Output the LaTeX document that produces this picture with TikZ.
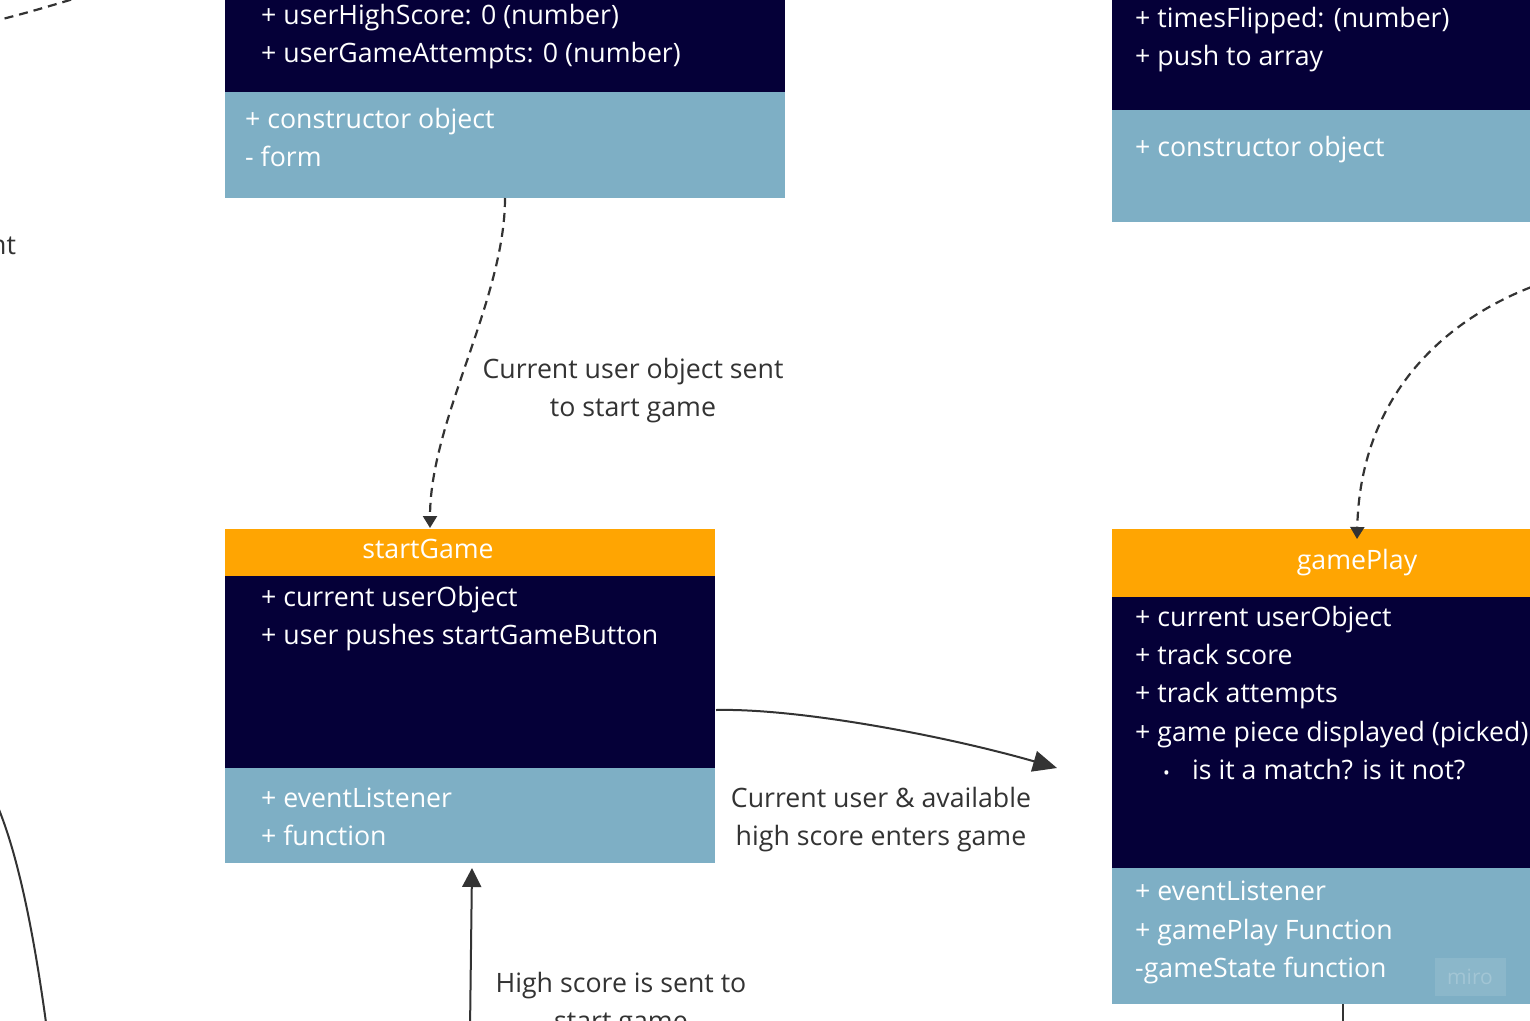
\documentclass[tikz,border=0pt]{standalone}
\usepackage{fontspec}
\setmainfont{Open Sans}
\usetikzlibrary{arrows.meta}
\definecolor{navy}{HTML}{050038}
\definecolor{orng}{HTML}{FFA502}
\definecolor{lblue}{HTML}{7EAFC5}
\definecolor{lblgray}{HTML}{333333}
\definecolor{linec}{HTML}{333333}
\begin{document}
\begin{tikzpicture}[x=1pt,y=-1pt,
  compart/.style={draw=none, anchor=north west, inner sep=0pt, outer sep=0pt},
  darkc/.style={compart, fill=navy},
  lightc/.style={compart, fill=lblue},
  headc/.style={compart, fill=orng},
  txt/.style={anchor=base west, inner sep=0pt, text=white, font=\fontsize{26.7}{38}\selectfont},
  ttl/.style={anchor=base, inner sep=0pt, text=white, font=\fontsize{26.7}{38}\selectfont},
  lbl/.style={anchor=base, inner sep=0pt, text=lblgray, font=\fontsize{26.7}{38}\selectfont},
  dashc/.style={draw=linec, line width=2.2pt, dash pattern=on 9pt off 6pt},
  solidc/.style={draw=linec, line width=2pt},
  smalltip/.style={-{Triangle[length=12pt,width=14pt]}},
  bigtip/.style={-{Triangle[length=24pt,width=21pt]}},
  midtip/.style={-{Triangle[length=19pt,width=19pt]}}
]
\useasboundingbox (0,0) rectangle (1530,1020);
\clip (0,0) rectangle (1530,1020);
\fill[white] (0,0) rectangle (1530,1020);

% ---------- top-left class (cut off) ----------
\node[darkc, minimum width=560pt, minimum height=152pt] (ud) at (225,-60) {};
\node[lightc, minimum width=560pt, minimum height=106pt] (ul) at (225,92) {};
\node[txt] (ut1) at (261,24) {+ userHighScore: 0 (number)};
\node[txt] (ut2) at (261,62) {+ userGameAttempts: 0 (number)};
\node[txt] (ut3) at (245,128) {+ constructor object};
\node[txt] (ut4) at (245,166) {- form};

% ---------- top-right class (cut off) ----------
\node[darkc, minimum width=450pt, minimum height=170pt] (cd) at (1112,-60) {};
\node[lightc, minimum width=450pt, minimum height=112pt] (cl) at (1112,110) {};
\node[txt] (ct1) at (1135,27) {+ timesFlipped: (number)};
\node[txt] (ct2) at (1135,65) {+ push to array};
\node[txt] (ct3) at (1135,156) {+ constructor object};

% ---------- startGame ----------
\node[headc, minimum width=490pt, minimum height=47pt] (sgh) at (225,529) {};
\node[darkc, minimum width=490pt, minimum height=192pt] (sgd) at (225,576) {};
\node[lightc, minimum width=490pt, minimum height=95pt] (sgl) at (225,768) {};
\node[ttl] (sgt) at (428,558) {startGame};
\node[txt] (sg1) at (261,606) {+ current userObject};
\node[txt] (sg2) at (261,644) {+ user pushes startGameButton};
\node[txt] (sg3) at (261,807) {+ eventListener};
\node[txt] (sg4) at (261,845) {+ function};

% ---------- gamePlay ----------
\node[headc, minimum width=450pt, minimum height=68pt] (gph) at (1112,529) {};
\node[darkc, minimum width=450pt, minimum height=271pt] (gpd) at (1112,597) {};
\node[lightc, minimum width=450pt, minimum height=136pt] (gpl) at (1112,868) {};
\node[ttl] (gpt) at (1357,569) {gamePlay};
\node[txt] (gp1) at (1135,626) {+ current userObject};
\node[txt] (gp2) at (1135,664) {+ track score};
\node[txt] (gp3) at (1135,702) {+ track attempts};
\node[txt] (gp4) at (1135,741) {+ game piece displayed (picked)};
\node[txt] (gpb) at (1163,779) {\fontsize{18}{20}\selectfont •};
\node[txt] (gp5) at (1192,779) {is it a match? is it not?};
\node[txt] (gp6) at (1135,900) {+ eventListener};
\node[txt] (gp7) at (1135,939) {+ gamePlay Function};
\node[txt] (gp8) at (1135,977) {-gameState function};
\node[fill=white, fill opacity=0.1, text=white, text opacity=0.2, minimum width=71pt, minimum height=38pt, inner sep=0pt,
      font=\fontsize{21}{24}\selectfont] (miro) at (1470,977) {miro};

% ---------- labels ----------
\node[lbl] (l1a) at (633,378) {Current user object sent};
\node[lbl] (l1b) at (633,416) {to start game};
\node[lbl] (l2a) at (881,807) {Current user \& available};
\node[lbl] (l2b) at (881,845) {high score enters game};
\node[lbl] (l3a) at (621,992) {High score is sent to};
\node[lbl] (l3b) at (621,1030) {start game};
\node[lbl, anchor=base west] (l4) at (-10,254) {nt};

% ---------- connector end points ----------
\coordinate (e1) at (430,528);
\coordinate (s2) at (1545,282);
\coordinate (e2) at (1357,539);
\coordinate (s3) at (716,710);
\coordinate (e3) at (1057,768);
\coordinate (s4) at (470,1030);
\coordinate (e4) at (472,868);
\coordinate (s5) at (-10,22);
\coordinate (e5) at (80,-3);
\coordinate (s6) at (-6,798);
\coordinate (e6) at (47,1030);
\coordinate (e7) at (1343,1030);

% ---------- connectors ----------
\draw[dashc, smalltip] (ul.south) .. controls (505,300) and (430,420) .. (e1);
\draw[dashc, smalltip] (s2) .. controls (1440,318) and (1360,400) .. (e2);
\draw[solidc, bigtip] (s3) .. controls (800,708) and (950,737) .. (e3);
\draw[solidc, midtip] (s4) -- (e4);
\draw[dashc] (s5) .. controls (20,15) and (50,6) .. (e5);
\draw[solidc] (s6) .. controls (18,850) and (35,940) .. (e6);
\draw[solidc, line width=2.5pt] (gpl.south -| e7) -- (e7);
\end{tikzpicture}
\end{document}
